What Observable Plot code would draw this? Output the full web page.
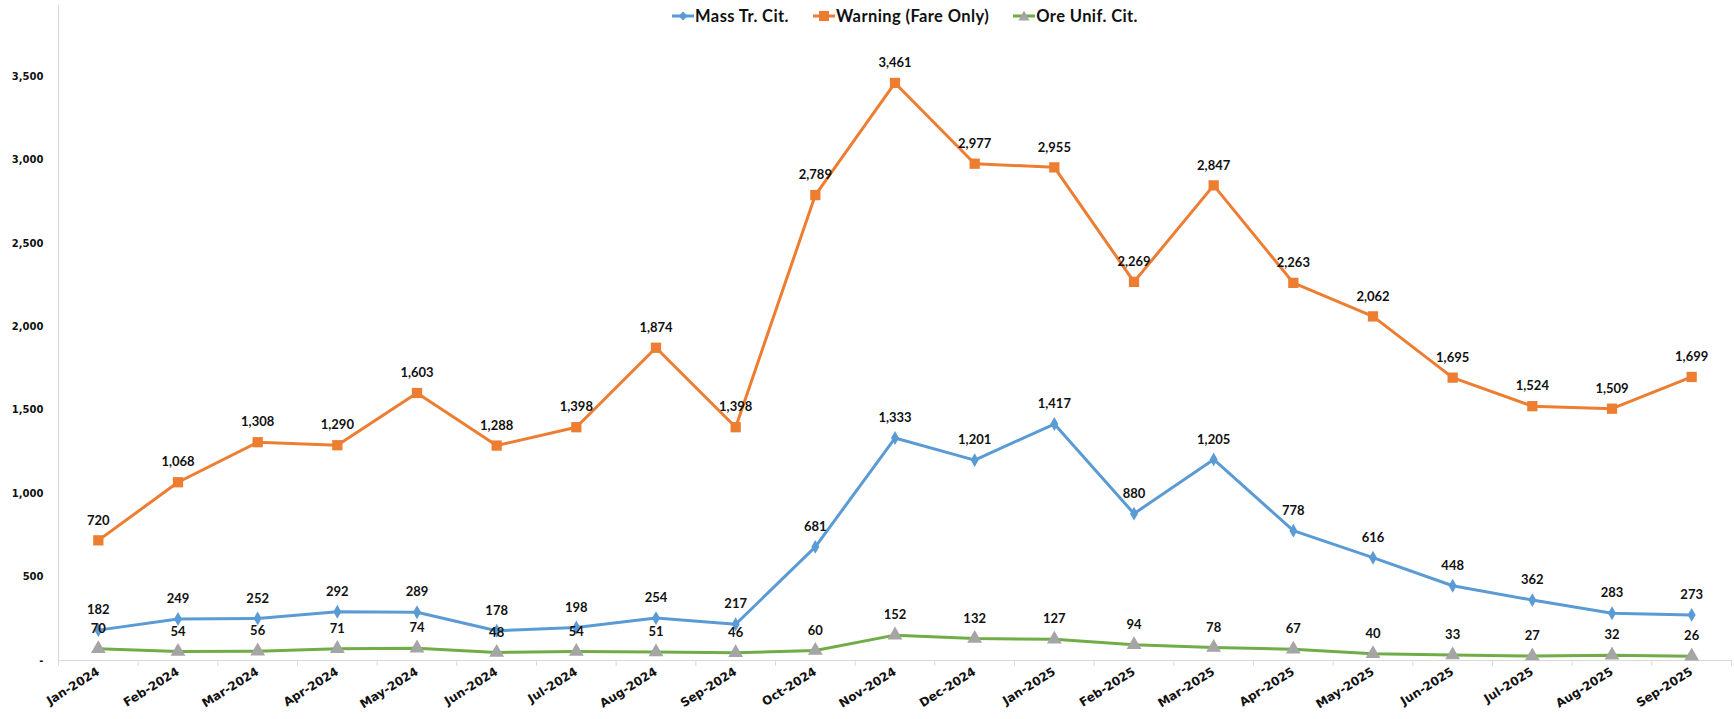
<!DOCTYPE html>
<html>
<head>
<meta charset="utf-8">
<script src="https://cdn.jsdelivr.net/npm/d3@7"></script>
<script src="https://cdn.jsdelivr.net/npm/@observablehq/plot@0.6"></script>
<style>
  html, body { margin: 0; padding: 0; background: #fff; }
  #wrap { position: relative; width: 1734px; height: 719px; }
  #legend { position: absolute; top: 6px; left: 0; width: 1734px; display: flex; justify-content: center; padding-left: 76px; box-sizing: border-box;
            font-family: Lato, "Open Sans", sans-serif; font-weight: bold; font-size: 16.5px; letter-spacing: 0.4px; color: #111; }
  .item { display: flex; align-items: center; margin: 0 12px; }
  .item svg { margin-right: 1px; }
</style>
</head>
<body>
<div id="wrap">
  <div id="legend"></div>
  <div id="chart"></div>
</div>
<script>
const months = ["Jan-2024","Feb-2024","Mar-2024","Apr-2024","May-2024","Jun-2024","Jul-2024","Aug-2024","Sep-2024","Oct-2024","Nov-2024","Dec-2024","Jan-2025","Feb-2025","Mar-2025","Apr-2025","May-2025","Jun-2025","Jul-2025","Aug-2025","Sep-2025"];
const massTr = [182,249,252,292,289,178,198,254,217,681,1333,1201,1417,880,1205,778,616,448,362,283,273];
const warning = [720,1068,1308,1290,1603,1288,1398,1874,1398,2789,3461,2977,2955,2269,2847,2263,2062,1695,1524,1509,1699];
const oreUnif = [70,54,56,71,74,48,54,51,46,60,152,132,127,94,78,67,40,33,27,32,26];
const seriesNames = ["Mass Tr. Cit.", "Warning (Fare Only)", "Ore Unif. Cit."];
const yTicks = [0,500,1000,1500,2000,2500,3000,3500];

const series = [
  {name: seriesNames[0], values: massTr, line: "#5B9BD5", marker: "#5B9BD5", symbol: "diamond", r: 4.2},
  {name: seriesNames[1], values: warning, line: "#ED7D31", marker: "#ED7D31", symbol: "square", r: 5.8},
  {name: seriesNames[2], values: oreUnif, line: "#70AD47", marker: "#A5A5A5", symbol: "triangle", r: 5.5}
];

const idx = d3.range(months.length);
const bounds = d3.range(months.length + 1).map(i => i - 0.5);
const fmt = d3.format(",");
const labelFont = "Lato, 'Open Sans', sans-serif";

const marks = [
  Plot.ruleX([-0.5], {stroke: "#d9d9d9", strokeWidth: 1.2}),
  Plot.ruleY([0], {stroke: "#d9d9d9", strokeWidth: 1.2}),
  Plot.axisX({ticks: bounds, tickSize: 6, tickFormat: () => "", stroke: "#d9d9d9"}),
  Plot.axisX({ticks: idx, tickSize: 0, tickPadding: 10, tickRotate: -32,
    tickFormat: i => months[i], fontFamily: "'DejaVu Sans', sans-serif", fontWeight: "bold", fontSize: 12,
    fill: "#111", letterSpacing: "1.1px", label: null}),
  Plot.axisY({ticks: yTicks, tickSize: 0, tickPadding: 15,
    tickFormat: d => d === 0 ? "-" : fmt(d), fontFamily: "'DejaVu Sans', sans-serif", fontWeight: "bold", fontSize: 10,
    fill: "#111", label: null})
];

for (const s of series) {
  marks.push(Plot.line(idx, {x: i => i, y: i => s.values[i], stroke: s.line, strokeWidth: 3, curve: "linear"}));
}
for (const s of series) {
  marks.push(Plot.dot(idx, {x: i => i, y: i => s.values[i], symbol: () => s.symbol, fill: s.marker, stroke: "none", r: s.r}));
}
for (const s of series) {
  marks.push(Plot.text(idx, {x: i => i, y: i => s.values[i], text: i => fmt(s.values[i]), dy: -20,
    fontFamily: labelFont, fontWeight: "bold", fontSize: 13, fill: "#111"}));
}

const chart = Plot.plot({
  width: 1734,
  height: 719,
  marginLeft: 58,
  marginRight: 3,
  marginTop: 5,
  marginBottom: 59,
  style: {background: "#fff", overflow: "visible"},
  x: {type: "linear", domain: [-0.5, months.length - 0.5]},
  y: {domain: [0, 3925]},
  symbol: {type: "identity"},
  marks
});
document.getElementById("chart").appendChild(chart);

// legend
const legend = document.getElementById("legend");
const symPaths = {
  diamond: "M11,4.5 L15.5,9 L11,13.5 L6.5,9 Z",
  square: "M6,4 H16 V14 H6 Z",
  triangle: "M11,3.5 L16.5,13.5 L5.5,13.5 Z"
};
for (const s of series) {
  const item = document.createElement("div");
  item.className = "item";
  item.innerHTML = `<svg width="22" height="18"><line x1="0" x2="22" y1="9" y2="9" stroke="${s.line}" stroke-width="3"/><path d="${symPaths[s.symbol]}" fill="${s.marker}"/></svg><span>${s.name}</span>`;
  legend.appendChild(item);
}
</script>
</body>
</html>
